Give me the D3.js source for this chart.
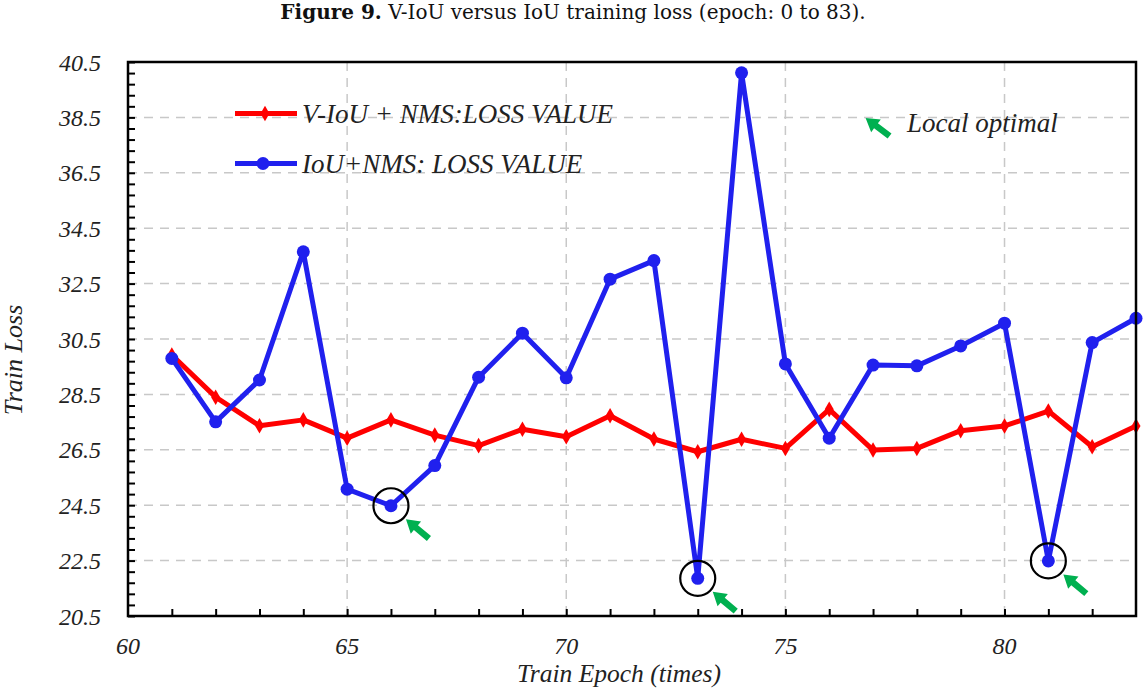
<!DOCTYPE html>
<html><head><meta charset="utf-8">
<script src="https://cdn.jsdelivr.net/npm/d3@7"></script>
<style>
html,body{margin:0;padding:0;background:#fff;}
svg{display:block;}
text{font-family:"Liberation Serif","Times New Roman",serif;}
</style></head>
<body>
<svg id="chart" width="1146" height="688"></svg>
<script>
const epochs = [61,62,63,64,65,66,67,68,69,70,71,72,73,74,75,76,77,78,79,80,81,82,83];
const vIouLoss = [29.92,28.40,27.37,27.58,26.92,27.58,27.03,26.65,27.24,26.97,27.73,26.89,26.43,26.88,26.55,27.96,26.49,26.55,27.19,27.36,27.90,26.61,27.36];
const iouLoss = [29.80,27.51,29.02,33.65,25.08,24.48,25.93,29.12,30.71,29.10,32.66,33.33,21.86,40.11,29.60,26.92,29.56,29.53,30.25,31.07,22.49,30.37,31.25];
const localOptimalEpochs = [66,73,81];
const xTickLabels = [60,65,70,75,80];
const yTickLabels = [20.5,22.5,24.5,26.5,28.5,30.5,32.5,34.5,36.5,38.5,40.5];
const seriesNames = ["V-IoU + NMS:LOSS VALUE","IoU+NMS: LOSS VALUE"];
const annotationText = "Local optimal";
const titleBold = "Figure 9.";
const titleRest = " V-IoU versus IoU training loss (epoch: 0 to 83).";
const xTitle = "Train Epoch (times)";
const yTitle = "Train Loss";

const svg = d3.select("#chart");
const L=128, R=1136, T=62, B=616;
const x = d3.scaleLinear().domain([60,83]).range([L,R]);
const y = d3.scaleLinear().domain([20.5,40.5]).range([B,T]);
const RED="#ff0000", BLUE="#2020ee", GREEN="#00b050", GRID="#c8c8c8";

// title (fit to reference width)
const title = svg.append("text").attr("x",573).attr("y",19).attr("text-anchor","middle")
  .style("font-family","'DejaVu Serif',serif").style("font-size","17px").attr("fill","#111");
title.append("tspan").attr("font-weight","bold").text(titleBold);
title.append("tspan").text(titleRest);
const tw = title.node().getComputedTextLength();
title.style("font-size", Math.min(20, 17*622/tw)+"px");

// gridlines
const g = svg.append("g");
g.selectAll(".hg").data(yTickLabels.filter(v=>v>20.5&&v<40.5)).join("line")
  .attr("x1",L).attr("x2",R).attr("y1",d=>y(d)).attr("y2",d=>y(d))
  .attr("stroke",GRID).attr("stroke-width",1.5).attr("stroke-dasharray","9,7");
g.selectAll(".vg").data(xTickLabels.filter(v=>v>60)).join("line")
  .attr("y1",T).attr("y2",B).attr("x1",d=>x(d)).attr("x2",d=>x(d))
  .attr("stroke",GRID).attr("stroke-width",1.5).attr("stroke-dasharray","9,7");

// axes ticks
const yMinor = d3.range(0,51).map(i=>20.5+i*0.4);
svg.append("g").attr("transform",`translate(${L},0)`)
  .call(d3.axisRight(y).tickValues(yMinor).tickSize(7).tickFormat(""))
  .call(s=>s.select(".domain").remove())
  .call(s=>s.selectAll("line").attr("stroke","#000").attr("stroke-width",2));
svg.append("g").attr("transform",`translate(0,${B})`)
  .call(d3.axisTop(x).tickValues(d3.range(61,83)).tickSize(7).tickFormat(""))
  .call(s=>s.select(".domain").remove())
  .call(s=>s.selectAll("line").attr("stroke","#000").attr("stroke-width",2));

// tick labels
svg.append("g").selectAll("text").data(yTickLabels).join("text")
  .attr("x",101).attr("y",d=>y(d)).attr("dy","0.36em").attr("text-anchor","end")
  .style("font-size","24px").style("font-style","italic").attr("fill","#222")
  .text(d=>d.toFixed(1));
svg.append("g").selectAll("text").data(xTickLabels).join("text")
  .attr("x",d=>x(d)).attr("y",654).attr("text-anchor","middle")
  .style("font-size","24px").style("font-style","italic").attr("fill","#222")
  .text(d=>d);

// axis titles
svg.append("text").attr("x",619).attr("y",682).attr("text-anchor","middle")
  .style("font-size","25.5px").style("font-style","italic").attr("fill","#222").text(xTitle);
svg.append("text").attr("transform","translate(22,360) rotate(-90)").attr("text-anchor","middle")
  .style("font-size","26px").style("font-style","italic").attr("fill","#222").text(yTitle);

// lines
const line = d3.line().x(d=>x(d[0])).y(d=>y(d[1]));
const redData = epochs.map((e,i)=>[e,vIouLoss[i]]);
const blueData = epochs.map((e,i)=>[e,iouLoss[i]]);
const plot = svg.append("g");
plot.append("path").datum(redData).attr("d",line).attr("fill","none")
  .attr("stroke",RED).attr("stroke-width",5).attr("stroke-linejoin","round");
const diamond = d3.symbol().type(d3.symbolDiamond).size(70);
plot.selectAll(".rm").data(redData).join("path")
  .attr("transform",d=>`translate(${x(d[0])},${y(d[1])})`).attr("d",diamond).attr("fill",RED);
plot.append("path").datum(blueData).attr("d",line).attr("fill","none")
  .attr("stroke",BLUE).attr("stroke-width",5).attr("stroke-linejoin","round");
plot.selectAll(".bm").data(blueData).join("circle")
  .attr("cx",d=>x(d[0])).attr("cy",d=>y(d[1])).attr("r",6.5).attr("fill",BLUE);

// local optimal markers
const arrowPts = [[0,0],[13,-8],[13,-3.2],[30,-3.2],[30,3.2],[13,3.2],[13,8]];
const arrowD = "M"+arrowPts.map(p=>p.join(",")).join("L")+"Z";
const lo = blueData.filter(d=>localOptimalEpochs.includes(d[0]));
plot.selectAll(".lc").data(lo).join("circle")
  .attr("cx",d=>x(d[0])).attr("cy",d=>y(d[1])).attr("r",17.5)
  .attr("fill","none").attr("stroke","#000").attr("stroke-width",2.2);
plot.selectAll(".la").data(lo).join("path")
  .attr("transform",d=>`translate(${x(d[0])+15},${y(d[1])+13.5}) rotate(40)`)
  .attr("d",arrowD).attr("fill",GREEN);

// frame
svg.append("rect").attr("x",L).attr("y",T).attr("width",R-L).attr("height",B-T)
  .attr("fill","none").attr("stroke","#000").attr("stroke-width",2.5);

// legend
const leg = svg.append("g");
const legY = [113.5,163.5];
leg.append("line").attr("x1",235).attr("x2",297).attr("y1",legY[0]).attr("y2",legY[0])
  .attr("stroke",RED).attr("stroke-width",5);
leg.append("path").attr("transform",`translate(265,${legY[0]})`).attr("d",diamond).attr("fill",RED);
leg.append("line").attr("x1",235).attr("x2",297).attr("y1",legY[1]).attr("y2",legY[1])
  .attr("stroke",BLUE).attr("stroke-width",5);
leg.append("circle").attr("cx",263).attr("cy",legY[1]).attr("r",6.5).attr("fill",BLUE);
leg.selectAll("text").data(seriesNames).join("text")
  .attr("x",302).attr("y",(d,i)=>legY[i]+9).style("font-size","27px").style("font-style","italic")
  .attr("fill","#222").text(d=>d);
leg.append("path").attr("transform",`translate(${x(76.83)},${y(38.48)}) rotate(37)`)
  .attr("d",arrowD).attr("fill",GREEN);
leg.append("text").attr("x",907).attr("y",132).style("font-size","27px").style("font-style","italic")
  .attr("fill","#222").text(annotationText);
</script>
</body></html>
